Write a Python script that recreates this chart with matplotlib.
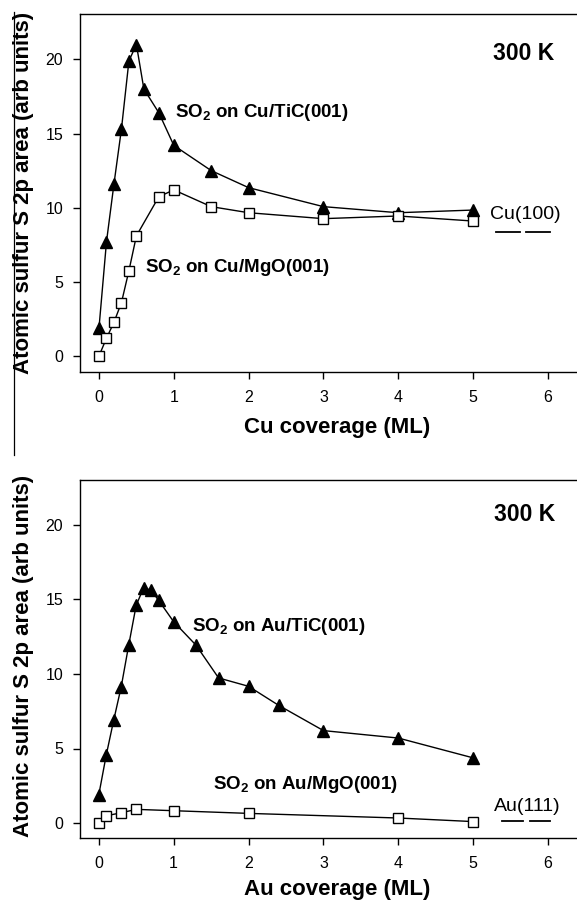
import numpy as np
import matplotlib.pyplot as plt
from matplotlib.lines import Line2D

plt.rcParams['font.family'] = ['Liberation Sans', 'DejaVu Sans']
plt.rcParams['mathtext.fontset'] = 'custom'
plt.rcParams['mathtext.rm'] = 'Liberation Sans'
plt.rcParams['mathtext.bf'] = 'Liberation Sans:bold'

# Cu panel
cu_tic_x = [0, 0.1, 0.2, 0.3, 0.4, 0.5, 0.6, 0.8, 1.0, 1.5, 2.0, 3.0, 4.0, 5.0]
cu_tic_y = [1.9, 7.7, 11.6, 15.3, 19.9, 21.0, 18.0, 16.4, 14.2, 12.5, 11.35, 10.07, 9.66, 9.84]
cu_mgo_x = [0, 0.1, 0.2, 0.3, 0.4, 0.5, 0.8, 1.0, 1.5, 2.0, 3.0, 4.0, 5.0]
cu_mgo_y = [0, 1.2, 2.27, 3.6, 5.75, 8.1, 10.74, 11.2, 10.07, 9.66, 9.26, 9.44, 9.1]

# Au panel
au_tic_x = [0, 0.1, 0.2, 0.3, 0.4, 0.5, 0.6, 0.7, 0.8, 1.0, 1.3, 1.6, 2.0, 2.4, 3.0, 4.0, 5.0]
au_tic_y = [1.87, 4.55, 6.9, 9.13, 11.92, 14.6, 15.78, 15.6, 14.93, 13.5, 11.92, 9.73, 9.17, 7.9, 6.2, 5.7, 4.37]
au_mgo_x = [0, 0.1, 0.3, 0.5, 1.0, 2.0, 4.0, 5.0]
au_mgo_y = [0, 0.49, 0.69, 0.92, 0.83, 0.65, 0.34, 0.1]

xticks = [0, 1, 2, 3, 4, 5, 6]
yticks = [0, 5, 10, 15, 20]

W, H = 577, 902

panels = [
    dict(pos=[80 / W, 1 - 372 / H, 497 / W, 358 / H], ylim=(-1.08, 23.06), xlim=(-0.254, 6.39),
         tic=(cu_tic_x, cu_tic_y), mgo=(cu_mgo_x, cu_mgo_y),
         xlabel='Cu coverage (ML)', xlabel_y=1 - 427 / H, ylabel_y=1 - 193 / H, metal='Cu',
         temp_xy=(5.68, 20.4), tic_xy=(1.01, 16.45), mgo_xy=(0.62, 6.0),
         ref='Cu(100)', ref_xy=(5.23, 9.57),
         dash_y=8.36, dashes=[(5.31, 5.63), (5.71, 6.03)]),
    dict(pos=[80 / W, 1 - 838 / H, 497 / W, 358 / H], ylim=(-1.0, 23.0), xlim=(-0.25, 6.385),
         tic=(au_tic_x, au_tic_y), mgo=(au_mgo_x, au_mgo_y),
         xlabel='Au coverage (ML)', xlabel_y=1 - 889 / H, ylabel_y=1 - 656 / H, metal='Au',
         temp_xy=(5.68, 20.7), tic_xy=(1.25, 13.2), mgo_xy=(1.52, 2.6),
         ref='Au(111)', ref_xy=(5.28, 1.14),
         dash_y=0.13, dashes=[(5.39, 5.66), (5.76, 6.03)]),
]

fig = plt.figure(figsize=(W / 100, H / 100), dpi=100)

for p in panels:
    ax = fig.add_axes(p['pos'])
    ax.plot(*p['tic'], color='black', lw=1.0, marker='^', ms=8.5,
            mfc='black', mec='black')
    ax.plot(*p['mgo'], color='black', lw=1.0, marker='s', ms=7,
            mfc='white', mec='black', mew=1.0)
    ax.set_xlim(*p['xlim'])
    ax.set_ylim(*p['ylim'])
    ax.set_xticks(xticks)
    ax.set_yticks(yticks)
    ax.tick_params(direction='out', length=5, width=1, labelsize=11.5)
    ax.tick_params(axis='x', pad=8)
    ax.tick_params(axis='y', pad=7)
    ax.spines['right'].set_visible(False)
    for s in ['top', 'left', 'bottom']:
        ax.spines[s].set_linewidth(1)
    fig.text(337 / W, p['xlabel_y'], p['xlabel'], fontsize=16, fontweight='bold',
             ha='center', va='center')
    fig.text(24 / W, p['ylabel_y'], 'Atomic sulfur S 2p area (arb units)', fontsize=16,
             fontweight='bold', rotation=90, ha='center', va='center')
    ax.text(*p['temp_xy'], '300 K', fontsize=16.5, fontweight='bold',
            ha='center', va='center')
    m = p['metal']
    ax.text(*p['tic_xy'], r'SO$_\mathbf{2}$ on %s/TiC(001)' % m, fontsize=13.5,
            fontweight='bold', ha='left', va='center')
    ax.text(*p['mgo_xy'], r'SO$_\mathbf{2}$ on %s/MgO(001)' % m, fontsize=13.5,
            fontweight='bold', ha='left', va='center')
    ax.text(*p['ref_xy'], p['ref'], fontsize=14, ha='left', va='center')
    for x0, x1 in p['dashes']:
        ax.plot([x0, x1], [p['dash_y'], p['dash_y']], color='black', lw=1.3,
                clip_on=False)

# stray vertical rule at left edge of the top panel
fig.add_artist(Line2D([13.5 / W, 13.5 / W], [1 - 12 / H, 1 - 455 / H],
                      color='black', lw=0.9))

fig.savefig('out.png', dpi=100)
